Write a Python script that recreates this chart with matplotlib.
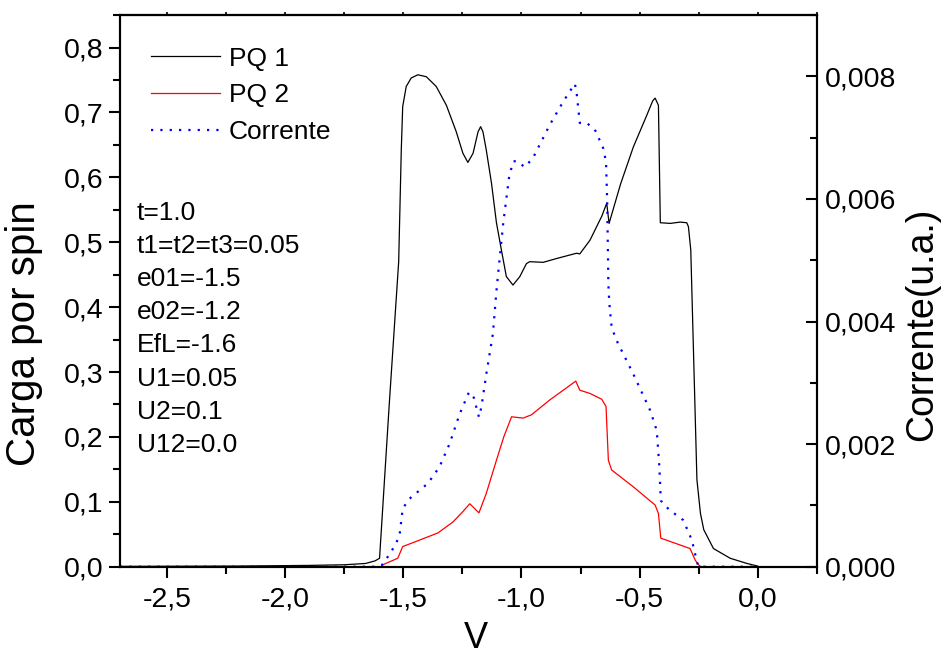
import matplotlib
matplotlib.use("Agg")
import matplotlib.pyplot as plt
from matplotlib.ticker import MultipleLocator, FuncFormatter, NullFormatter

plt.rcParams['font.family'] = ['Liberation Sans', 'DejaVu Sans']

# PQ 1 (left axis)
pq1_v = [-2.70, -2.20, -1.90, -1.75, -1.66, -1.62, -1.601, -1.56, -1.52, -1.509, -1.503,
         -1.488, -1.467, -1.439, -1.403, -1.361, -1.318, -1.276, -1.248, -1.227, -1.205,
         -1.184, -1.173, -1.163, -1.149, -1.127, -1.106, -1.085, -1.064, -1.036, -1.007,
         -0.979, -0.965, -0.908, -0.85, -0.767, -0.753, -0.71, -0.66, -0.639, -0.629,
         -0.58, -0.526, -0.47, -0.444, -0.434, -0.42, -0.412, -0.37, -0.328, -0.30,
         -0.293, -0.283, -0.257, -0.242, -0.228, -0.187, -0.116, -0.045, 0.0]
pq1_q = [0.0005, 0.001, 0.002, 0.003, 0.005, 0.009, 0.013, 0.25, 0.47, 0.642, 0.709,
         0.740, 0.753, 0.758, 0.755, 0.740, 0.711, 0.670, 0.637, 0.623, 0.637,
         0.670, 0.678, 0.670, 0.642, 0.591, 0.530, 0.488, 0.447, 0.434, 0.447,
         0.467, 0.470, 0.469, 0.475, 0.483, 0.482, 0.503, 0.54, 0.56, 0.529,
         0.59, 0.647, 0.695, 0.718, 0.722, 0.711, 0.53, 0.529, 0.531, 0.53,
         0.524, 0.488, 0.134, 0.082, 0.057, 0.028, 0.013, 0.005, 0.001]

# PQ 2 (left axis)
pq2_v = [-2.70, -1.60, -1.594, -1.587, -1.524, -1.503, -1.446, -1.354, -1.290, -1.248,
         -1.219, -1.180, -1.149, -1.106, -1.075, -1.042, -0.993, -0.958, -0.880, -0.823,
         -0.770, -0.753, -0.710, -0.660, -0.642, -0.632, -0.618, -0.526, -0.434, -0.420,
         -0.410, -0.286, -0.264, -0.250, -0.24, 0.0]
pq2_q = [0.0, 0.0, 0.0, 0.003, 0.013, 0.031, 0.039, 0.052, 0.069, 0.085,
         0.097, 0.083, 0.113, 0.164, 0.200, 0.231, 0.229, 0.234, 0.257, 0.272,
         0.286, 0.272, 0.267, 0.258, 0.247, 0.164, 0.149, 0.123, 0.095, 0.082,
         0.044, 0.028, 0.010, 0.003, 0.0, 0.0]

# Corrente (right axis)
cur_v = [-2.70, -1.62, -1.59, -1.552, -1.517, -1.503, -1.474, -1.396, -1.347, -1.304,
         -1.262, -1.222, -1.202, -1.180, -1.170, -1.149, -1.121, -1.106, -1.078, -1.053,
         -1.036, -1.021, -0.986, -0.951, -0.880, -0.823, -0.774, -0.767, -0.753, -0.724,
         -0.689, -0.654, -0.642, -0.637, -0.632, -0.628, -0.618, -0.597, -0.526, -0.455,
         -0.427, -0.416, -0.410, -0.393, -0.371, -0.315, -0.278, -0.257, -0.25, 0.0]
cur_i = [0.0, 0.0, 0.00003, 0.00024, 0.00049, 0.00095, 0.00111, 0.00136, 0.00163, 0.00201,
         0.00249, 0.00285, 0.00276, 0.00244, 0.00260, 0.00314, 0.00380, 0.00450, 0.00558, 0.00634,
         0.00661, 0.00662, 0.00652, 0.00667, 0.00721, 0.00759, 0.00788, 0.00775, 0.00724, 0.00724,
         0.00713, 0.00683, 0.00661, 0.00596, 0.00461, 0.00430, 0.00390, 0.00369, 0.00314, 0.00255,
         0.00222, 0.00163, 0.00108, 0.00100, 0.00092, 0.00076, 0.00043, 0.00008, 0.0, 0.0]

params = ["t=1.0", "t1=t2=t3=0.05", "e01=-1.5", "e02=-1.2", "EfL=-1.6",
          "U1=0.05", "U2=0.1", "U12=0.0"]

fig = plt.figure(figsize=(9.43, 6.55), dpi=100)
ax = fig.add_axes([0.1273, 0.1348, 0.866 - 0.1273, 0.977 - 0.1348])
ax2 = ax.twinx()

l1, = ax.plot(pq1_v, pq1_q, color='black', lw=0.9, label='PQ 1')
l2, = ax.plot(pq2_v, pq2_q, color='#ff0000', lw=0.9, label='PQ 2')
l3, = ax2.plot(cur_v, cur_i, color='#0000ff', lw=1.6, linestyle=(0, (1.0, 3.2)),
               label='Corrente')

ax.set_xlim(-2.7, 0.25)
ax.set_ylim(0, 0.85)
ax2.set_ylim(0, 0.009)

ax.xaxis.set_major_locator(MultipleLocator(0.5))
ax.xaxis.set_minor_locator(MultipleLocator(0.25))
ax.yaxis.set_major_locator(MultipleLocator(0.1))
ax.yaxis.set_minor_locator(MultipleLocator(0.05))
ax2.yaxis.set_major_locator(MultipleLocator(0.002))
ax2.yaxis.set_minor_locator(MultipleLocator(0.001))

ax.xaxis.set_major_formatter(FuncFormatter(lambda v, p: f"{v:.1f}".replace('.', ',').replace('-0,0', '0,0')))
ax.yaxis.set_major_formatter(FuncFormatter(lambda v, p: f"{v:.1f}".replace('.', ',')))
ax2.yaxis.set_major_formatter(FuncFormatter(lambda v, p: f"{v:.3f}".replace('.', ',')))

for a in (ax, ax2):
    for s in a.spines.values():
        s.set_linewidth(1.5)

ax.tick_params(axis='x', which='major', direction='out', length=8, width=1.5,
               labelsize=20.5, pad=6, top=False)
ax.tick_params(axis='x', which='minor', direction='out', length=5, width=1.5, top=False)
ax.tick_params(axis='y', which='major', direction='out', length=8, width=1.5,
               labelsize=20.5, pad=4, right=False)
ax.tick_params(axis='y', which='minor', direction='out', length=5, width=1.5, right=False)
ax2.tick_params(axis='y', which='major', direction='in', length=8, width=1.5,
                labelsize=20.5, pad=6)
ax2.tick_params(axis='y', which='minor', direction='in', length=5, width=1.5)

# very short ticks on the top spine
top = ax.secondary_xaxis('top')
top.xaxis.set_major_locator(MultipleLocator(0.5))
top.xaxis.set_minor_locator(MultipleLocator(0.25))
top.xaxis.set_major_formatter(NullFormatter())
top.tick_params(which='both', direction='out', length=2, width=1.2)
top.spines['top'].set_linewidth(1.5)

ax.set_xlabel('V', fontsize=26)
ax.xaxis.set_label_coords(0.511, -0.098)
ax.set_ylabel('Carga por spin', fontsize=29)
ax.yaxis.set_label_coords(-0.1105, 0.422)
ax2.set_ylabel('Corrente(u.a.)', fontsize=27)
ax2.yaxis.set_label_coords(1.126, 0.44)

ax.legend(handles=[l1, l2, l3], loc='upper left', frameon=False, fontsize=19,
          handlelength=2.6, handletextpad=0.35, labelspacing=0.48,
          bbox_to_anchor=(0.0293, 0.962), borderaxespad=0.0)

ax_h = 566.7 - 15.0
for i, s in enumerate(params):
    ax.text(0.024, (566.7 - (213 + 33.1 * i)) / ax_h, s, transform=ax.transAxes,
            fontsize=19, va='center', ha='left')

fig.savefig('out.png', dpi=100)
